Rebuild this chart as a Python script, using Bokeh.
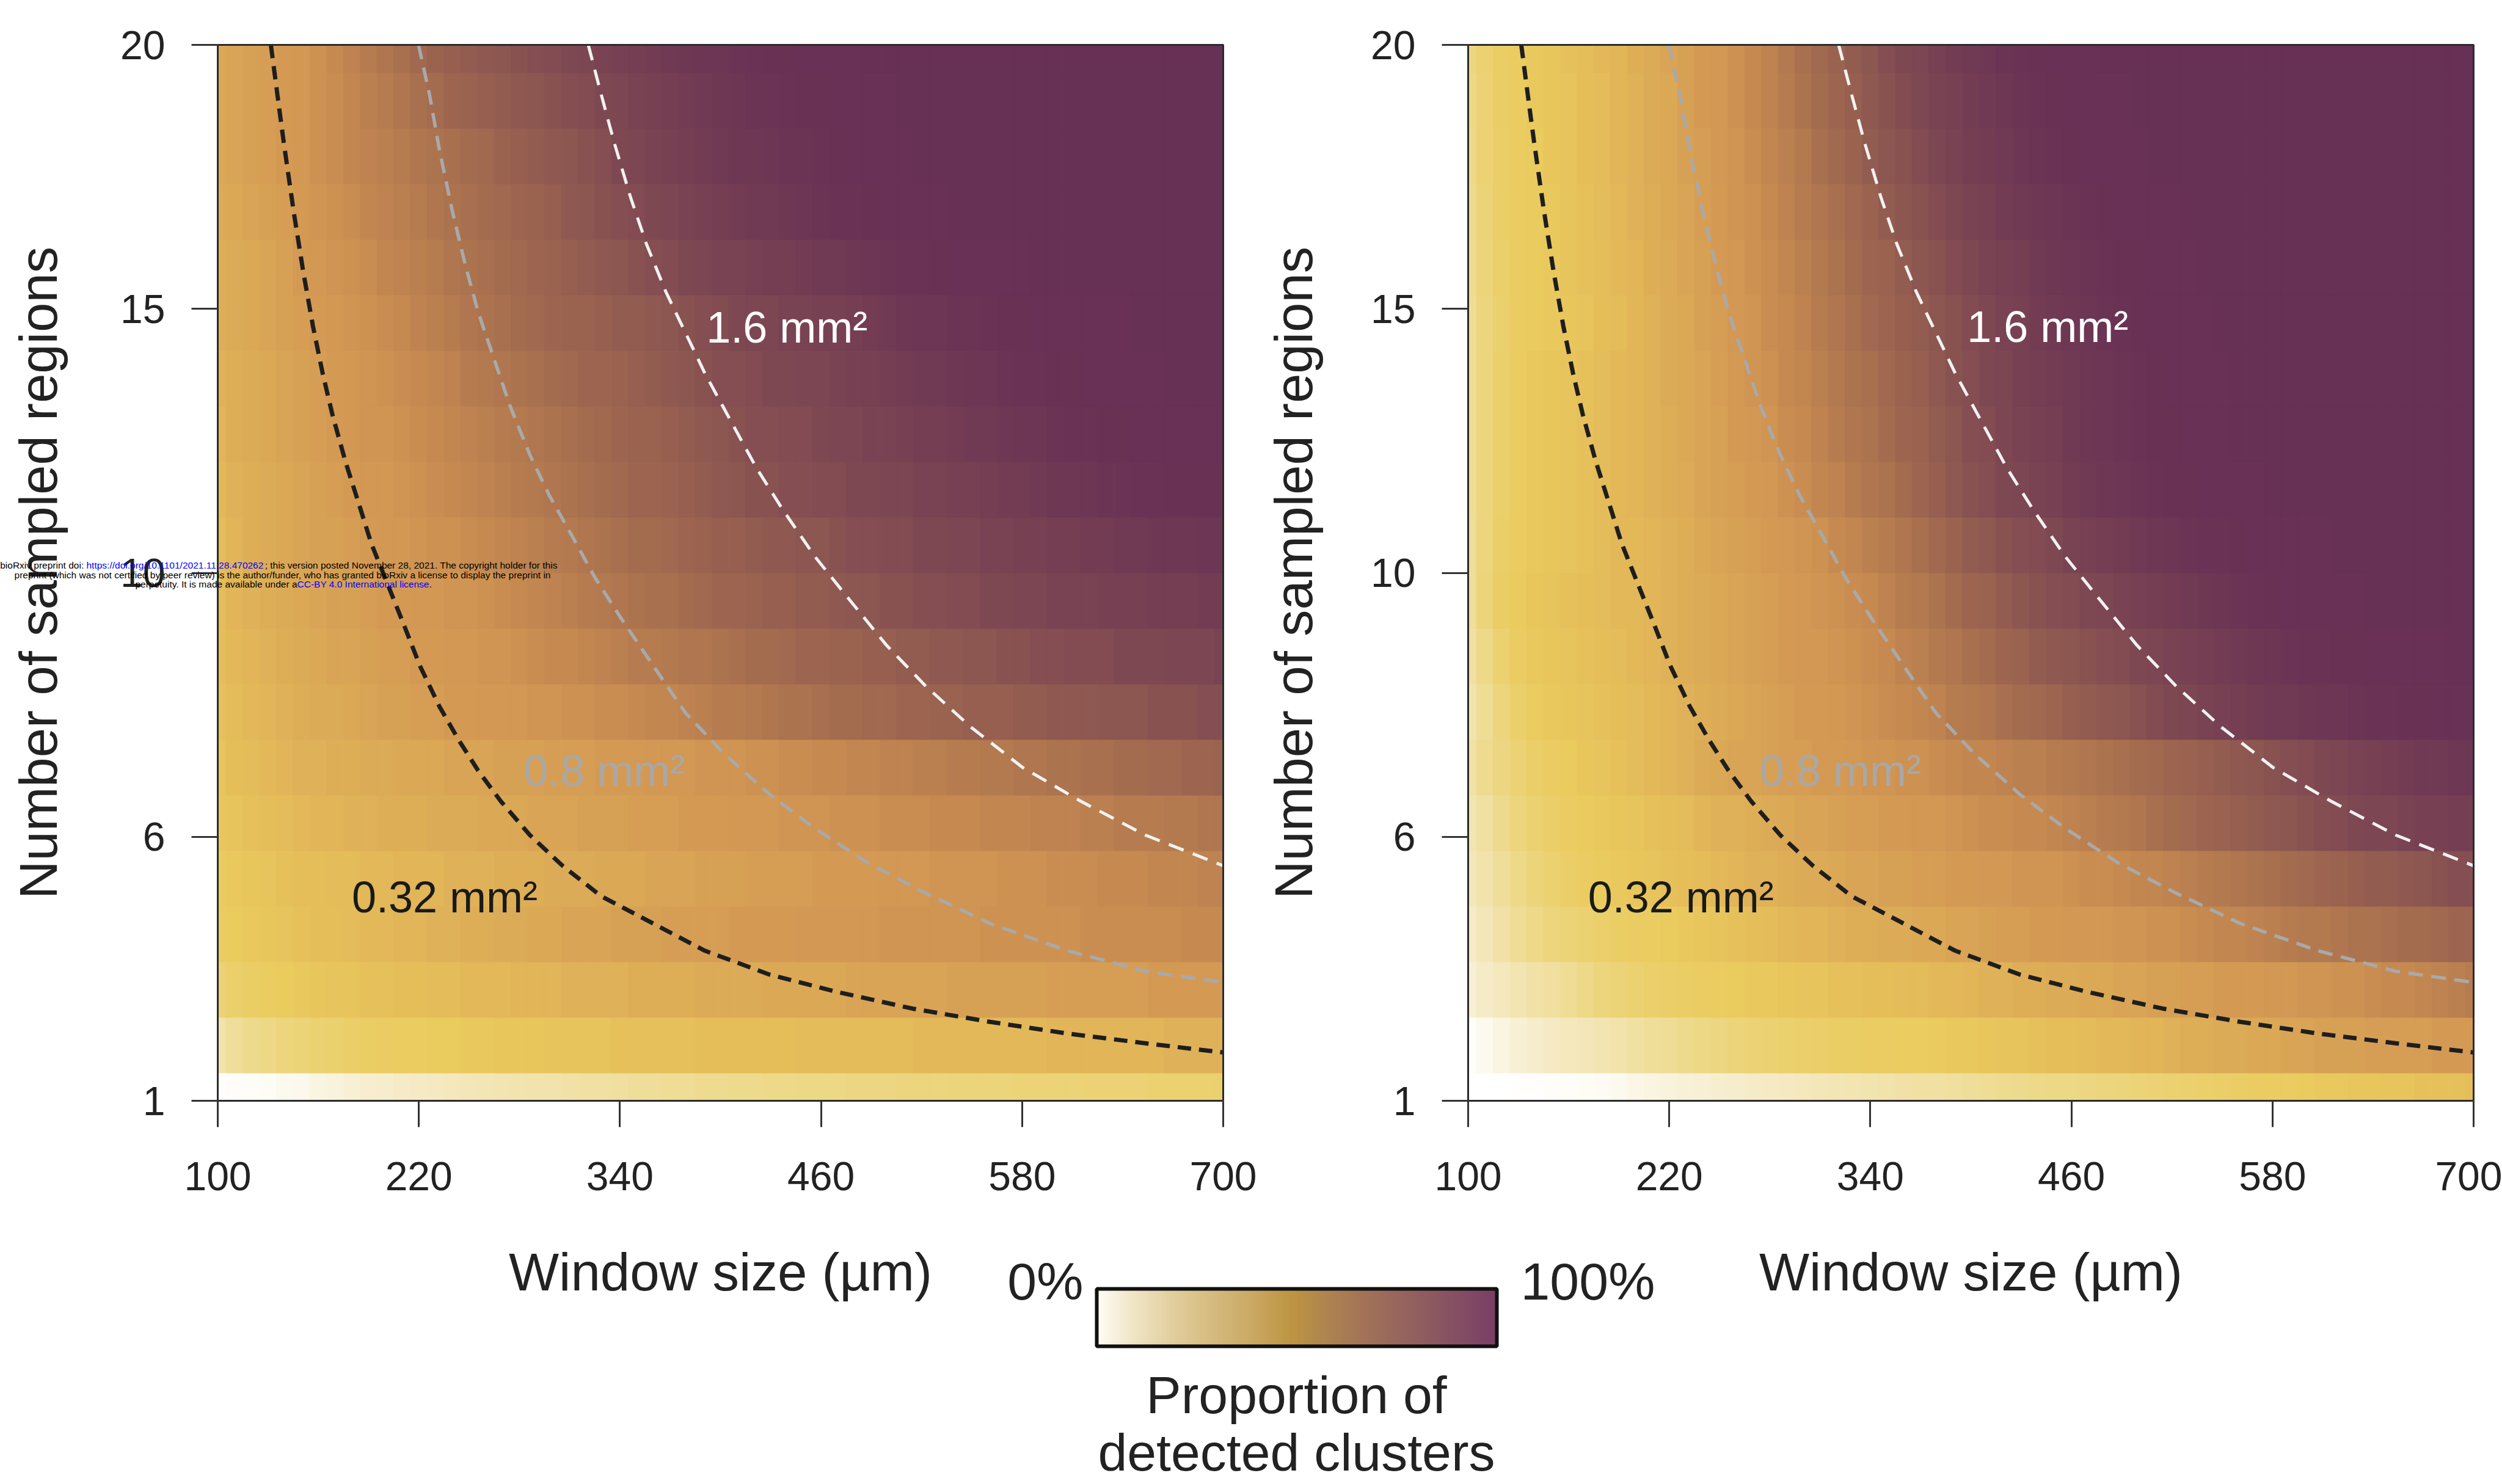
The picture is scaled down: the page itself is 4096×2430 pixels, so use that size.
from bokeh.plotting import figure
from bokeh.layouts import column, row
from bokeh.models import (ColumnDataSource, LinearColorMapper, FixedTicker, Range1d,
                          Label, ColorBar)
from bokeh.transform import transform
from bokeh.embed import file_html
from bokeh.resources import INLINE
from bokeh.core.properties import value

FONT = "Liberation Sans"

# ---------------- data ----------------
window_sizes = list(range(100, 701, 10))   # columns (um)
regions = list(range(1, 21))               # rows (number of sampled regions)

x_ticks = [100, 220, 340, 460, 580, 700]
y_tick_positions = [1, 5.75, 10.5, 15.25, 20]
y_tick_labels = ["1", "6", "10", "15", "20"]

# Left panel: proportion of detected clusters (%), one list per row, w = 100..700 step 10
left_n01 = [1,2,3,4,6,7,9,10,12,13, 14,15,16,17,18,19,20,21,22,23, 23,24,25,25,26,27,27,28,28,29,
            29,30,30,31,31,32,32,32,33,33, 33,34,34,34,35,35,35,35,36,36, 36,36,37,37,37,37,38,38,38,38, 39]
left_n02 = [23,27,30,32,34,36,38,39,41,42, 43,44,44,45,45,46,46,47,47,47, 48,48,48,48,49,49,49,49,49,50,
            50,50,50,50,50,51,51,51,51,51, 51,51,52,52,52,52,52,52,52,52, 53,53,53,53,53,53,53,54,54,54, 54]
left_n03 = [37,40,42,44,45,46,47,48,48,49, 49,50,50,51,51,52,52,52,53,53, 53,54,54,54,54,55,55,55,55,56,
            56,56,56,57,57,57,57,57,58,58, 58,58,58,58,59,59,59,59,59,59, 60,60,60,60,60,60,61,61,61,61, 61]
left_n04 = [43,45,46,47,48,49,50,50,51,52, 52,53,53,54,54,55,55,56,56,57, 57,58,58,58,59,59,59,60,60,60,
            60,61,61,61,61,62,62,62,62,62, 63,63,63,63,63,63,64,64,64,64, 64,64,65,65,65,65,65,65,66,66, 66]
left_n05 = [45,46,47,48,49,50,50,51,51,52, 52,53,53,53,54,54,54,55,55,55, 56,56,56,57,57,57,58,58,58,59,
            59,59,60,60,60,60,61,61,61,61, 62,62,62,63,63,63,63,64,64,64, 65,65,65,66,66,66,67,67,67,68, 68]
left_n06 = [47,48,49,50,51,52,53,53,54,54, 55,55,55,56,56,56,57,57,57,58, 58,58,59,59,59,60,60,60,61,61,
            61,62,62,62,63,63,63,64,64,64, 65,65,65,66,66,66,67,67,67,68, 68,68,69,69,70,70,70,71,71,72, 72]
left_n07 = [48,50,51,52,53,54,54,55,55,56, 56,57,57,57,58,58,58,59,59,59, 60,60,60,61,61,61,62,62,62,63,
            63,63,64,64,65,65,66,66,67,67, 68,68,69,69,70,70,71,71,72,72, 73,73,74,74,75,75,76,76,77,77, 78]
left_n08 = [49,51,52,53,54,55,56,56,57,58, 59,59,60,60,61,61,62,62,62,63, 63,64,64,65,65,66,67,67,68,69,
            70,70,71,72,73,73,74,75,75,76, 76,77,77,78,78,79,79,79,80,80, 81,81,81,82,82,82,83,83,83,84, 84]
left_n09 = [50,52,53,54,55,56,57,58,58,59, 60,60,61,61,62,62,63,63,64,65, 66,66,67,68,69,70,70,71,72,72,
            73,74,75,75,76,77,77,78,78,79, 79,80,80,81,81,82,82,83,83,84, 84,85,85,85,86,86,86,87,87,87, 88]
left_n10 = [51,53,54,55,56,57,58,59,59,60, 61,61,62,62,63,63,64,65,66,67, 68,69,70,71,72,73,74,74,75,76,
            77,77,78,79,79,80,80,81,82,82, 83,83,84,84,85,85,86,86,87,87, 88,88,88,89,89,89,90,90,90,91, 91]
left_n11 = [51,53,55,56,57,58,59,59,60,61, 62,62,63,64,64,65,66,67,68,69, 70,71,72,73,74,75,75,76,77,78,
            79,79,80,81,81,82,82,83,84,84, 85,85,86,86,87,87,88,88,89,89, 90,90,91,91,92,92,93,93,93,94, 94]
left_n12 = [52,54,55,56,57,58,59,60,61,62, 62,63,64,65,66,67,68,69,70,71, 72,73,74,75,76,77,77,78,79,80,
            81,82,83,83,84,84,85,85,86,86, 87,87,88,88,89,89,90,91,91,92, 93,93,94,95,95,96,96,97,97,97, 97]
left_n13 = [53,55,56,57,58,59,60,61,62,63, 63,64,65,66,67,68,69,70,71,72, 73,74,75,76,77,78,78,79,80,81,
            82,83,84,84,85,85,86,87,87,88, 88,89,90,90,91,92,92,93,94,94, 95,96,96,97,97,98,98,98,99,99, 99]
left_n14 = [54,55,56,57,58,59,60,61,62,63, 64,65,66,67,68,70,71,72,73,74, 75,76,77,77,78,79,80,81,82,83,
            84,84,85,86,86,87,87,88,89,89, 90,91,92,92,93,94,94,95,96,96, 97,97,98,98,99,99,99,100,100,100, 100]
left_n15 = [55,56,57,58,59,60,61,62,63,64, 65,66,68,69,70,72,73,74,75,76, 77,78,78,79,80,80,81,82,83,84,
            85,86,87,87,88,88,89,89,90,91, 92,93,94,94,95,95,96,97,97,98, 98,99,99,99,99,100,100,100,100,100, 100]
left_n16 = [55,56,57,58,59,61,62,63,64,65, 67,68,69,70,72,73,74,75,76,77, 78,79,80,81,82,83,84,85,86,87,
            88,88,89,90,90,91,92,92,93,94, 95,96,96,97,98,98,99,99,99,100, 100,100,100,100,100,100,100,100,100,100, 100]
left_n17 = [56,57,58,59,60,61,63,64,65,67, 68,69,70,72,73,74,75,76,77,78, 79,81,82,83,84,85,86,87,88,89,
            90,91,92,92,93,94,95,96,96,97, 98,98,99,99,100,100,100,100,100,100, 100,100,100,100,100,100,100,100,100,100, 100]
left_n18 = [57,58,59,60,61,62,64,65,67,68, 69,70,72,73,74,75,76,78,79,80, 81,82,83,84,86,87,88,89,90,91,
            92,93,93,94,95,95,96,97,98,98, 99,99,100,100,100,100,100,100,100,100, 100,100,100,100,100,100,100,100,100,100, 100]
left_n19 = [57,58,59,60,61,62,64,65,67,69, 70,72,74,75,77,78,79,80,81,82, 83,84,85,86,87,88,89,90,91,92,
            93,94,95,95,96,97,97,98,98,99, 99,100,100,100,100,100,100,100,100,100, 100,100,100,100,100,100,100,100,100,100, 100]
left_n20 = [57,58,59,60,61,62,64,66,68,70, 72,74,76,78,79,80,81,82,83,84, 85,86,87,88,89,90,91,92,93,94,
            94,95,96,97,97,98,98,99,99,100, 100,100,100,100,100,100,100,100,100,100, 100,100,100,100,100,100,100,100,100,100, 100]

# Right panel
right_n01 = [0,0,0,1,1,2,3,4,5,6, 8,9,10,11,12,13,14,15,16,17, 18,19,20,21,22,23,24,25,25,26,
             27,28,29,30,31,32,32,33,34,35, 36,37,38,39,40,41,42,43,44,44, 45,46,46,47,47,48,48,49,49,49, 50]
right_n02 = [3,6,9,12,14,16,18,19,21,23, 25,27,28,30,32,33,35,37,38,39, 40,41,42,42,43,43,44,44,45,46,
             46,47,48,48,49,50,50,51,52,52, 53,53,54,55,55,56,56,57,57,58, 58,59,59,59,60,60,60,60,61,61, 61]
right_n03 = [12,15,18,21,24,26,28,31,34,36, 38,40,41,42,43,44,45,46,46,47, 48,48,49,49,50,50,51,51,52,52,
             53,54,54,55,55,56,56,57,57,58, 58,59,59,60,60,61,61,61,62,62, 63,63,64,64,65,66,66,67,68,69, 70]
right_n04 = [15,19,24,28,31,34,36,38,40,42, 43,44,45,46,47,48,49,50,51,52, 53,53,54,55,55,56,56,57,57,58,
             58,59,60,60,61,61,62,62,62,63, 63,64,64,65,66,67,67,68,69,70, 71,71,72,73,73,74,75,75,76,77, 77]
right_n05 = [19,23,27,31,35,38,41,43,45,46, 47,48,49,50,51,52,53,54,54,55, 56,56,57,58,58,59,59,60,60,61,
             61,62,62,63,63,63,64,65,65,66, 67,67,68,69,70,71,72,73,74,75, 76,77,78,79,80,80,81,82,83,84, 84]
right_n06 = [21,25,30,34,38,41,43,45,46,47, 48,49,50,51,53,54,54,55,56,57, 58,58,59,60,60,61,61,62,62,63,
             64,65,65,66,66,67,68,69,70,71, 72,74,75,76,77,78,79,80,81,82, 83,84,85,86,87,87,88,89,89,90, 90]
right_n07 = [24,29,33,37,41,43,45,47,48,49, 51,52,53,54,56,57,58,58,59,60, 60,61,61,62,63,63,64,64,65,66,
             67,67,68,69,69,70,71,72,73,74, 75,76,77,78,79,80,81,82,83,84, 85,86,87,88,89,90,91,92,92,93, 94]
right_n08 = [22,28,34,40,44,46,47,48,49,50, 51,52,53,54,55,56,57,58,59,60, 61,61,62,63,64,65,66,67,68,70,
             71,72,74,75,76,77,79,80,81,82, 83,85,86,87,88,89,90,91,92,92, 93,94,94,95,96,96,97,97,98,98, 98]
right_n09 = [25,31,38,43,46,47,48,49,50,51, 52,53,54,55,56,57,58,59,60,61, 62,62,63,64,65,66,68,69,71,72,
             74,75,77,78,80,81,82,83,84,85, 86,87,88,89,90,91,92,93,94,95, 96,96,97,97,98,98,99,99,99,100, 100]
right_n10 = [27,35,42,45,47,48,49,50,51,52, 52,53,54,55,56,57,58,59,60,61, 62,63,64,65,66,68,70,71,73,75,
             77,78,80,82,83,84,85,86,87,88, 89,90,91,92,93,94,95,96,97,98, 98,99,99,99,100,100,100,100,100,100, 100]
right_n11 = [27,34,41,44,46,47,48,49,51,52, 52,53,54,55,57,58,59,60,61,62, 63,64,66,67,69,70,72,74,76,78,
             80,81,83,84,85,86,88,89,90,91, 92,93,94,95,96,96,97,98,98,99, 99,99,100,100,100,100,100,100,100,100, 100]
right_n12 = [28,34,40,44,46,47,48,49,51,52, 53,54,55,56,58,59,60,61,62,64, 65,67,68,70,72,73,75,77,79,81,
             83,84,86,87,88,89,91,92,93,94, 95,96,97,97,98,98,99,99,100,100, 100,100,100,100,100,100,100,100,100,100, 100]
right_n13 = [28,34,40,44,46,47,48,49,51,52, 53,54,55,57,58,59,61,62,63,65, 66,68,70,72,73,75,77,78,80,82,
             84,85,87,88,89,90,92,93,94,95, 96,97,97,98,99,99,100,100,100,100, 100,100,100,100,100,100,100,100,100,100, 100]
right_n14 = [28,34,40,44,46,47,48,49,51,52, 53,54,56,57,58,60,61,63,64,66, 67,69,71,73,74,76,78,79,81,83,
             84,86,87,89,90,91,92,93,94,95, 96,97,98,98,99,99,100,100,100,100, 100,100,100,100,100,100,100,100,100,100, 100]
right_n15 = [28,34,39,43,45,46,47,48,50,51, 53,54,56,57,59,60,62,63,65,66, 68,70,72,74,76,77,79,80,82,83,
             85,86,88,89,91,92,93,94,95,96, 97,98,98,99,99,100,100,100,100,100, 100,100,100,100,100,100,100,100,100,100, 100]
right_n16 = [29,35,40,43,45,46,48,49,50,52, 53,55,56,58,59,61,62,64,65,67, 69,71,73,75,77,78,80,82,83,85,
             86,88,89,90,92,93,94,95,96,97, 97,98,99,99,100,100,100,100,100,100, 100,100,100,100,100,100,100,100,100,100, 100]
right_n17 = [30,36,41,43,45,46,48,49,51,52, 54,55,57,58,60,61,63,64,66,68, 70,72,74,76,78,80,82,83,85,86,
             88,89,91,92,93,94,95,96,97,98, 98,99,99,100,100,100,100,100,100,100, 100,100,100,100,100,100,100,100,100,100, 100]
right_n18 = [31,37,41,44,45,47,48,50,51,53, 54,56,57,59,60,62,63,65,67,69, 71,74,76,78,80,82,83,85,87,88,
             90,91,92,94,95,96,97,98,98,99, 99,100,100,100,100,100,100,100,100,100, 100,100,100,100,100,100,100,100,100,100, 100]
right_n19 = [32,37,42,44,46,47,48,50,51,53, 54,56,57,59,61,62,64,66,68,70, 73,75,77,79,81,83,85,86,88,89,
             91,92,93,95,96,97,98,98,99,99, 100,100,100,100,100,100,100,100,100,100, 100,100,100,100,100,100,100,100,100,100, 100]
right_n20 = [33,38,42,44,46,47,49,50,52,53, 55,56,58,59,61,62,64,66,68,71, 74,76,78,80,82,84,86,87,89,91,
             92,93,95,96,97,98,99,99,100,100, 100,100,100,100,100,100,100,100,100,100, 100,100,100,100,100,100,100,100,100,100, 100]

left_rows = [left_n01, left_n02, left_n03, left_n04, left_n05, left_n06, left_n07, left_n08, left_n09, left_n10,
             left_n11, left_n12, left_n13, left_n14, left_n15, left_n16, left_n17, left_n18, left_n19, left_n20]
right_rows = [right_n01, right_n02, right_n03, right_n04, right_n05, right_n06, right_n07, right_n08, right_n09, right_n10,
              right_n11, right_n12, right_n13, right_n14, right_n15, right_n16, right_n17, right_n18, right_n19, right_n20]

# iso-area dashed lines (window size, number of regions)
iso_032_w = [131.7,135.6,139.4,145.2,151.0,156.8,162.6,168.4,176.2,183.9,191.6,201.3,211.0,220.6,232.2,
             243.8,255.4,268.9,286.3,305.7,328.9,359.8,390.7,429.4,468.0,514.4,560.8,607.2,657.5,700.0]
iso_032_n = [20.00,19.10,18.24,17.02,15.92,14.94,14.09,13.35,12.50,11.77,11.03,10.30,9.57,8.83,8.10,
             7.49,6.94,6.39,5.78,5.23,4.68,4.19,3.70,3.27,2.97,2.66,2.42,2.21,2.02,1.87]
iso_08_w = [219.8,226.4,232.2,239.9,247.7,255.4,265.1,274.7,286.3,297.9,311.5,325.0,340.5,359.8,379.1,
            402.3,429.4,456.4,487.4,522.2,560.8,607.2,653.6,700.0]
iso_08_n = [20.00,19.10,18.12,17.02,16.04,15.19,14.33,13.48,12.62,11.89,11.16,10.42,9.69,8.83,7.98,
            7.24,6.51,5.90,5.29,4.74,4.19,3.70,3.33,3.13]
iso_16_w = [321.1,328.9,336.6,346.3,355.9,367.5,379.1,390.7,406.2,421.6,437.1,456.4,475.8,499.0,522.2,
            549.2,580.2,615.0,653.6,700.0]
iso_16_n = [20.00,19.10,18.24,17.26,16.41,15.55,14.82,14.09,13.23,12.38,11.64,10.79,10.06,9.20,8.47,
            7.73,7.00,6.39,5.78,5.23]

area_labels = ["0.32 mm\u00b2", "0.8 mm\u00b2", "1.6 mm\u00b2"]
area_label_colors = ["#1a1a1a", "#a8a8a8", "#ffffff"]
left_label_w = [180.0, 282.5, 391.5]
left_label_n = [4.67, 6.94, 14.92]
right_label_w = [171.5, 274.0, 397.7]
right_label_n = [4.67, 6.94, 14.93]

# ---------------- colours ----------------
heat_stops = [(0, "#FFFFFF"), (5, "#FDFBF2"), (10, "#F9F3DD"), (15, "#F5EBC6"), (20, "#F3E6B5"),
              (25, "#F0E0A2"), (30, "#EEDA8C"), (35, "#ECD47A"), (40, "#EBCF6A"), (45, "#EACB5E"),
              (50, "#E5BF5A"), (55, "#DEAE57"), (60, "#D69E55"), (63, "#D09553"), (66, "#C68A51"),
              (70, "#B77D4F"), (74, "#A8704F"), (78, "#9A6350"), (82, "#8C5651"), (86, "#7F4952"),
              (90, "#753E53"), (94, "#6D3654"), (97, "#693255"), (100, "#673055")]
cbar_stops = [(0, "#FFFDF5"), (8.5, "#F1E6C8"), (18.6, "#E2CF9E"), (28, "#D6BC80"), (38, "#CBAA65"),
              (48.7, "#BD9541"), (57.8, "#AF8350"), (67.6, "#A27158"), (77.5, "#95635E"),
              (87, "#885462"), (100, "#7A3E66")]


def build_palette(stops, n=256):
    def rgb(h):
        h = h.lstrip("#")
        return [int(h[i:i + 2], 16) for i in (0, 2, 4)]
    out = []
    lo, hi = stops[0][0], stops[-1][0]
    for i in range(n):
        v = lo + (hi - lo) * i / (n - 1)
        for (v0, c0), (v1, c1) in zip(stops[:-1], stops[1:]):
            if v <= v1:
                t = (v - v0) / (v1 - v0)
                a, b = rgb(c0), rgb(c1)
                out.append("#%02x%02x%02x" % tuple(int(round(a[k] + (b[k] - a[k]) * t)) for k in range(3)))
                break
    return out


heat_mapper = LinearColorMapper(palette=build_palette(heat_stops), low=0, high=100)
cbar_mapper = LinearColorMapper(palette=build_palette(cbar_stops), low=0, high=100)

PANEL_H = 1990
BORDER_TOP = 73
BORDER_BOTTOM = 188
FRAME_W = 1646
FRAME_H = PANEL_H - BORDER_TOP - BORDER_BOTTOM
AXIS_COLOR = "#2b2b2b"


def make_panel(rows, width, border_left, border_right, label_w, label_n, ylabel_standoff):
    """The plotting frame covers the whole canvas (so the preprint notice can run over the margin);
    both axes are pinned to the edges of the data box."""
    x_lo, x_hi = window_sizes[0], window_sizes[-1]
    y_lo, y_hi = regions[0], regions[-1]
    half = (window_sizes[1] - window_sizes[0]) / 2
    lefts, rights, bottoms, tops, vs = [], [], [], [], []
    for n, vals in zip(regions, rows):
        assert len(vals) == len(window_sizes), (n, len(vals))
        for w, v in zip(window_sizes, vals):
            lefts.append(max(w - half, x_lo))
            rights.append(min(w + half, x_hi))
            bottoms.append(max(n - 0.5, y_lo))
            tops.append(min(n + 0.5, y_hi))
            vs.append(v)
    src = ColumnDataSource(dict(left=lefts, right=rights, bottom=bottoms, top=tops, v=vs))

    sx = (x_hi - x_lo) / FRAME_W
    sy = (y_hi - y_lo) / FRAME_H
    xr = Range1d(x_lo - border_left * sx, x_hi + border_right * sx)
    yr = Range1d(y_lo - BORDER_BOTTOM * sy, y_hi + BORDER_TOP * sy)
    p = figure(width=width, height=PANEL_H, x_range=xr, y_range=yr,
               output_backend="svg", toolbar_location=None, title=None,
               min_border_left=0, min_border_right=0, min_border_top=0, min_border_bottom=0)
    p.quad(left="left", right="right", bottom="bottom", top="top", source=src,
           fill_color=transform("v", heat_mapper), line_color=transform("v", heat_mapper), line_width=1)
    p.line(iso_032_w, iso_032_n, line_color="#1e1e1e", line_width=7, line_dash="22 13")
    p.line(iso_08_w, iso_08_n, line_color="#a9a9a9", line_width=5.5, line_dash="24 14")
    p.line(iso_16_w, iso_16_n, line_color="#f2f2f2", line_width=5, line_dash="26 16")
    for t, c, x, y in zip(area_labels, area_label_colors, label_w, label_n):
        p.text(x=[x], y=[y], text=[t], text_color=c, text_font=value(FONT), text_font_size="72px",
               text_baseline="middle", text_align="left")

    p.grid.visible = False
    p.background_fill_color = "white"
    p.border_fill_color = "white"
    p.outline_line_color = None
    p.line([x_lo, x_hi, x_hi], [y_hi, y_hi, y_lo], line_color=AXIS_COLOR, line_width=3)
    p.yaxis.fixed_location = x_lo
    p.xaxis.fixed_location = y_lo
    p.yaxis.bounds = (y_lo, y_hi)
    p.xaxis.bounds = (x_lo, x_hi)

    p.xaxis.ticker = FixedTicker(ticks=x_ticks)
    p.yaxis.ticker = FixedTicker(ticks=y_tick_positions)
    p.yaxis.major_label_overrides = {float(k): v for k, v in zip(y_tick_positions, y_tick_labels)}
    for ax in (p.xaxis[0], p.yaxis[0]):
        ax.major_label_text_font = FONT
        ax.major_label_text_font_size = "66px"
        ax.major_label_text_color = "#222222"
        ax.major_tick_out = 43
        ax.major_tick_in = 0
        ax.major_tick_line_width = 3
        ax.major_tick_line_color = "#333333"
        ax.minor_tick_line_color = None
        ax.axis_line_color = AXIS_COLOR
        ax.axis_line_width = 3
    p.xaxis.major_label_standoff = 57
    p.yaxis.major_label_standoff = 43
    p.yaxis.axis_label = "Number of sampled regions"
    p.yaxis.axis_label_text_font = FONT
    p.yaxis.axis_label_text_font_size = "87px"
    p.yaxis.axis_label_text_font_style = "normal"
    p.yaxis.axis_label_text_color = "#222222"
    p.yaxis.axis_label_standoff = ylabel_standoff
    return p, xr, yr


P1_W, P2_W = 2059, 2037
p1, p1_xr, p1_yr = make_panel(left_rows, P1_W, 356, P1_W - 356 - FRAME_W, left_label_w, left_label_n, 83)
p2, _, _ = make_panel(right_rows, P2_W, 2403 - P1_W, 4096 - 4049, right_label_w, right_label_n, 75)

# ---- bioRxiv notice (overlaid on the left panel) ----


def px(X, Y):
    """page pixel (from the top-left of the left panel) -> data coordinates of the left panel"""
    return (p1_xr.start + X * (p1_xr.end - p1_xr.start) / P1_W,
            p1_yr.end - Y * (p1_yr.end - p1_yr.start) / PANEL_H)


WM = 15.5
link_w = 18.847 * WM
cc_w = 13.95 * WM
wm_pieces = [
    ("bioRxiv preprint doi: ", 141, 925, "right", "#000000"),
    ("https://doi.org/10.1101/2021.11.28.470262", 141, 925, "left", "#0000ff"),
    ("; this version posted November 28, 2021. The copyright holder for this", 141 + link_w, 925, "left", "#000000"),
    ("preprint (which was not certified by peer review) is the author/funder, who has granted bioRxiv a license to display the preprint in",
     462, 941, "center", "#000000"),
    ("perpetuity. It is made available under a", 486, 956, "right", "#000000"),
    ("CC-BY 4.0 International license", 486, 956, "left", "#0000ff"),
    (".", 486 + cc_w, 956, "left", "#000000"),
]
for t, X, Y, al, col in wm_pieces:
    dx, dy = px(X, Y)
    p1.add_layout(Label(x=dx, y=dy, text=t, text_align=al, text_baseline="middle",
                        text_font=FONT, text_font_size="%gpx" % WM, text_color=col))

# ---------------- bottom strip: x titles + colour bar ----------------
STRIP_H = 440
p3 = figure(width=4096, height=STRIP_H, x_range=Range1d(0, 4096), y_range=Range1d(STRIP_H, 0),
            output_backend="svg", toolbar_location=None, title=None,
            min_border_left=0, min_border_right=0, min_border_top=0, min_border_bottom=0)
p3.axis.visible = False
p3.grid.visible = False
p3.outline_line_color = None
p3.background_fill_color = "white"
p3.border_fill_color = "white"

for cx in (1179, 3226):
    p3.text(x=[cx], y=[92], text=["Window size (\u00b5m)"], text_font=value(FONT), text_font_size="87px",
            text_color="#222222", text_align="center", text_baseline="middle")
p3.text(x=[1773], y=[107], text=["0%"], text_font=value(FONT), text_font_size="86px",
        text_color="#222222", text_align="right", text_baseline="middle")
p3.text(x=[2489], y=[107], text=["100%"], text_font=value(FONT), text_font_size="86px",
        text_color="#222222", text_align="left", text_baseline="middle")
p3.text(x=[2122, 2122], y=[293, 387], text=["Proportion of", "detected clusters"], text_font=value(FONT),
        text_font_size="86px", text_color="#222222", text_align="center", text_baseline="middle")

cb = ColorBar(color_mapper=cbar_mapper, orientation="horizontal", location=(1795, 226),
              width=655, height=94, padding=0, margin=0, ticker=FixedTicker(ticks=[]),
              major_label_text_font_size="0px", major_tick_line_color=None, minor_tick_line_color=None,
              bar_line_color="#111111", bar_line_width=6, border_line_color=None,
              background_fill_color=None, label_standoff=0)
p3.add_layout(cb)

layout = column(row(p1, p2), p3)
open("out.html", "w").write(file_html(layout, INLINE, title="Proportion of detected clusters"))
